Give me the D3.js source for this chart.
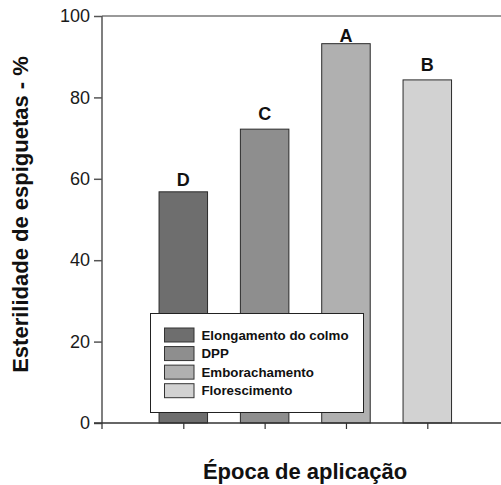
<!DOCTYPE html>
<html>
<head>
<meta charset="utf-8">
<script src="https://cdn.jsdelivr.net/npm/d3@7"></script>
<style>
  body { margin: 0; background: #fff; }
  text { font-family: "Liberation Sans", Arial, sans-serif; }
</style>
</head>
<body>
<div id="chart"></div>
<script>
const categories = ["Elongamento do colmo", "DPP", "Emborachamento", "Florescimento"];
const values = [56.8, 72.2, 93.2, 84.3];
const letters = ["D", "C", "A", "B"];
const letterAt = [58.2, 74.5, 93.7, 86.6];   // baseline of the letter, in % units
const fills = ["#6e6e6e", "#8e8e8e", "#b0b0b0", "#d2d2d2"];
const yTicks = [0, 20, 40, 60, 80, 100];

const width = 501, height = 485;
const plotLeft = 102, plotTop = 16, plotBottom = 423, plotRight = 501;

const svg = d3.select("#chart")
    .append("svg")
    .attr("width", width)
    .attr("height", height);

const y = d3.scaleLinear().domain([0, 100]).range([plotBottom, plotTop]);
const x = d3.scalePoint().domain(categories).range([183.3, 427.3]);
const barW = 48.5;

// top frame line
svg.append("line")
    .attr("x1", plotLeft).attr("x2", plotRight)
    .attr("y1", plotTop).attr("y2", plotTop)
    .attr("stroke", "#777").attr("stroke-width", 1.5);

// bars
svg.selectAll("rect.bar")
    .data(categories)
    .join("rect")
    .attr("class", "bar")
    .attr("x", d => x(d) - barW / 2)
    .attr("width", barW)
    .attr("y", (d, i) => y(values[i]))
    .attr("height", (d, i) => y(0) - y(values[i]))
    .attr("fill", (d, i) => fills[i])
    .attr("stroke", "#2a2a2a")
    .attr("stroke-width", 1);

// letters over bars
svg.selectAll("text.letter")
    .data(categories)
    .join("text")
    .attr("class", "letter")
    .attr("x", d => x(d))
    .attr("y", (d, i) => y(letterAt[i]))
    .attr("text-anchor", "middle")
    .attr("font-size", 18)
    .attr("font-weight", "bold")
    .attr("fill", "#111")
    .text((d, i) => letters[i]);

// y axis
const yAxis = svg.append("g")
    .attr("transform", `translate(${plotLeft},0)`)
    .call(d3.axisLeft(y).tickValues(yTicks).tickSize(8).tickPadding(4));
yAxis.select(".domain").remove();
yAxis.selectAll(".tick line").attr("stroke", "#555").attr("stroke-width", 1.5);
yAxis.selectAll(".tick text")
    .attr("font-size", 18)
    .attr("font-family", "Liberation Sans, Arial, sans-serif")
    .attr("fill", "#1a1a1a");
svg.append("line")
    .attr("x1", plotLeft).attr("x2", plotLeft)
    .attr("y1", plotTop).attr("y2", plotBottom + 6)
    .attr("stroke", "#555").attr("stroke-width", 1.5);

// x axis
const xAxis = svg.append("g")
    .attr("transform", `translate(0,${plotBottom})`)
    .call(d3.axisBottom(x).tickSize(6).tickFormat(""));
xAxis.select(".domain").remove();
xAxis.selectAll(".tick line").attr("stroke", "#333").attr("stroke-width", 1.2);
svg.append("line")
    .attr("x1", plotLeft - 8).attr("x2", plotRight)
    .attr("y1", plotBottom).attr("y2", plotBottom)
    .attr("stroke", "#333").attr("stroke-width", 1.5);

// axis titles
svg.append("text")
    .attr("transform", `translate(28,${(55 + 374) / 2}) rotate(-90)`)
    .attr("text-anchor", "middle")
    .attr("font-size", 22)
    .attr("font-weight", "bold")
    .attr("fill", "#111")
    .text("Esterilidade de espiguetas - %");

svg.append("text")
    .attr("x", 305)
    .attr("y", 479)
    .attr("text-anchor", "middle")
    .attr("font-size", 22)
    .attr("font-weight", "bold")
    .attr("fill", "#111")
    .text("Época de aplicação");

// legend
const legend = svg.append("g");
legend.append("rect")
    .attr("x", 150.5).attr("y", 313.5)
    .attr("width", 213).attr("height", 99)
    .attr("fill", "#fff")
    .attr("stroke", "#222").attr("stroke-width", 1);

const rowY = d3.scaleLinear().domain([0, 3]).range([335, 390.7]);
const rows = legend.selectAll("g.row")
    .data(categories)
    .join("g")
    .attr("class", "row")
    .attr("transform", (d, i) => `translate(0,${rowY(i)})`);
rows.append("rect")
    .attr("x", 164.5).attr("y", -7)
    .attr("width", 29.5).attr("height", 14)
    .attr("fill", (d, i) => fills[i])
    .attr("stroke", "#333").attr("stroke-width", 1);
rows.append("text")
    .attr("x", 201.5)
    .attr("y", 4.7)
    .attr("font-size", 13.3)
    .attr("font-weight", "bold")
    .attr("fill", "#111")
    .text(d => d);
</script>
</body>
</html>
